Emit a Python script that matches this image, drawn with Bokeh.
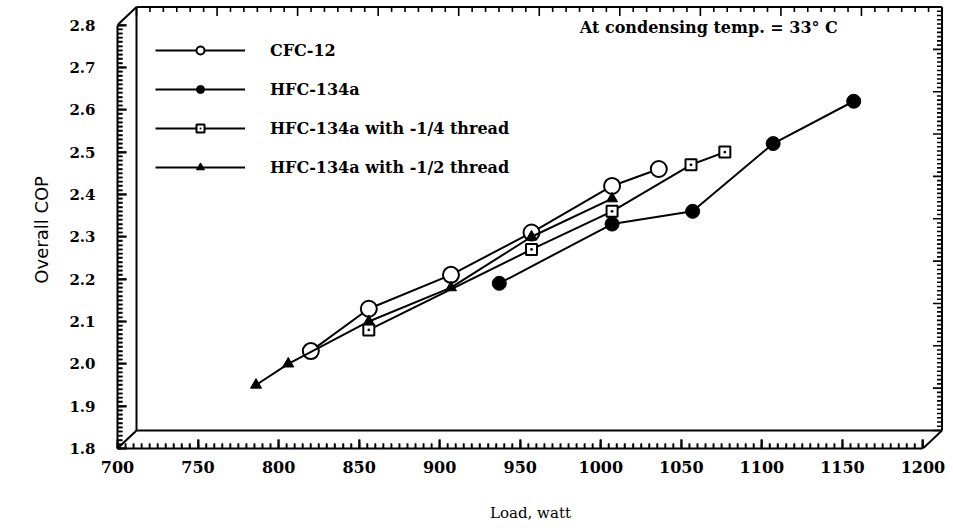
from bokeh.plotting import figure
from bokeh.models import Range1d, FixedTicker, Legend, LegendItem, Label
from bokeh.embed import file_html
from bokeh.resources import INLINE

# ---- data ----
cfc_x = [820, 856, 907, 957, 1007, 1036]
cfc_y = [2.03, 2.13, 2.21, 2.31, 2.42, 2.46]

hfc_x = [937, 1007, 1057, 1107, 1157]
hfc_y = [2.19, 2.33, 2.36, 2.52, 2.62]

quarter_x = [856, 957, 1007, 1056, 1077]
quarter_y = [2.08, 2.27, 2.36, 2.47, 2.50]

half_x = [786, 806, 856, 907, 957, 1007]
half_y = [1.95, 2.00, 2.10, 2.18, 2.30, 2.39]

series_names = ["CFC-12", "HFC-134a", "HFC-134a with -1/4 thread", "HFC-134a with -1/2 thread"]

x_ticks = [700, 750, 800, 850, 900, 950, 1000, 1050, 1100, 1150, 1200]
x_tick_labels = ["700", "750", "800", "850", "900", "950", "1000", "1050", "1100", "1150", "1200"]
y_ticks = [1.8, 1.9, 2.0, 2.1, 2.2, 2.3, 2.4, 2.5, 2.6, 2.7, 2.8]
y_tick_labels = ["1.8", "1.9", "2.0", "2.1", "2.2", "2.3", "2.4", "2.5", "2.6", "2.7", "2.8"]

note_text = "At condensing temp. = 33° C"
x_title = "Load, watt"
y_title = "Overall  COP"

# ---- 3-D frame geometry ----
PXX = 1.61      # pixels per x unit
PXY = 423.0     # pixels per y unit
DX = 19 / PXX   # back plane offset (x)
DY = 18 / PXY   # back plane offset (y)
X0, X1 = 700, 1200
Y0, Y1 = 1.8, 2.8
XE = X1 + DX + 1.5 / PXX
YE = Y1 + DY + 1.5 / PXY

FONT = "DejaVu Serif"

p = figure(width=953, height=531,
           x_range=Range1d(X0, XE), y_range=Range1d(Y0, YE),
           output_backend="svg", toolbar_location=None,
           min_border_left=117, min_border_right=10,
           min_border_top=5, min_border_bottom=83)
p.grid.visible = False
p.outline_line_color = None

xa = p.xaxis[0]
xa.ticker = FixedTicker(ticks=x_ticks, minor_ticks=[X0 + 5 * k for k in range(101)])
xa.bounds = (X0, X1)
xa.major_label_overrides = {t: l for t, l in zip(x_ticks, x_tick_labels)}
xa.axis_line_width = 2
xa.axis_line_color = "black"
xa.major_tick_in = 9
xa.major_tick_out = 0
xa.minor_tick_in = 5
xa.minor_tick_out = 0
xa.major_tick_line_color = "black"
xa.minor_tick_line_color = "black"
xa.major_tick_line_width = 2
xa.minor_tick_line_width = 1.5
xa.major_label_standoff = 12
xa.major_label_text_font = FONT
xa.major_label_text_font_style = "bold"
xa.major_label_text_font_size = "16px"
xa.major_label_text_color = "black"
xa.axis_label = x_title
xa.axis_label_text_font = FONT
xa.axis_label_text_font_style = "normal"
xa.axis_label_text_font_size = "15px"
xa.axis_label_text_color = "black"
xa.axis_label_standoff = 28

ya = p.yaxis[0]
ya.ticker = FixedTicker(ticks=y_ticks, minor_ticks=[round(Y0 + 0.01 * k, 2) for k in range(101)])
ya.bounds = (Y0, Y1)
ya.major_label_overrides = {t: l for t, l in zip(y_ticks, y_tick_labels)}
ya.axis_line_width = 2
ya.axis_line_color = "black"
ya.major_tick_in = 9
ya.major_tick_out = 0
ya.minor_tick_in = 5
ya.minor_tick_out = 0
ya.major_tick_line_color = "black"
ya.minor_tick_line_color = "black"
ya.major_tick_line_width = 2
ya.minor_tick_line_width = 1.5
ya.major_label_standoff = 22
ya.major_label_text_font = FONT
ya.major_label_text_font_style = "bold"
ya.major_label_text_font_size = "15px"
ya.major_label_text_color = "black"
ya.axis_label = y_title
ya.axis_label_text_font = "DejaVu Sans"
ya.axis_label_text_font_style = "normal"
ya.axis_label_text_font_size = "18px"
ya.axis_label_text_color = "black"
ya.axis_label_standoff = 14

# ---- tick combs, drawn as short polylines ----
MAJ, MIN = 9, 5
tick_xs, tick_ys = [], []
for k in range(101):                       # front bottom
    x = X0 + 5 * k
    tick_xs.append([x, x])
    tick_ys.append([Y0, Y0 + (MAJ if k % 10 == 0 else MIN) / PXY])
for k in range(101):                       # front left
    y = Y0 + 0.01 * k
    tick_xs.append([X0, X0 + (MAJ if k % 10 == 0 else MIN) / PXX])
    tick_ys.append([y, y])
for k in range(61):                        # back top
    x = X0 + DX + 50 * k / 6
    tick_xs.append([x, x])
    tick_ys.append([Y1 + DY, Y1 + DY - (MAJ if k % 6 == 0 else MIN) / PXY])
for k in range(101):                       # back right
    y = Y0 + DY + 0.01 * k
    tick_xs.append([X1 + DX, X1 + DX - (MAJ if k % 10 == 0 else MIN) / PXX])
    tick_ys.append([y, y])
p.multi_line(xs=tick_xs, ys=tick_ys, line_color="black", line_width=1.6)

# back-plane edges and corner connectors
p.multi_line(xs=[[X0 + DX, X0 + DX], [X0 + DX, X1 + DX], [X0 + DX, X1 + DX], [X1 + DX, X1 + DX],
                 [X0, X0 + DX], [X0, X0 + DX], [X1, X1 + DX]],
             ys=[[Y0 + DY, Y1 + DY], [Y0 + DY, Y0 + DY], [Y1 + DY, Y1 + DY], [Y0 + DY, Y1 + DY],
                 [Y0, Y0 + DY], [Y1, Y1 + DY], [Y0, Y0 + DY]],
             line_color="black", line_width=2)

# ---- series ----
l1 = p.line(cfc_x, cfc_y, line_color="black", line_width=2)
m1 = p.scatter(cfc_x, cfc_y, marker="circle", size=16, fill_color="white", line_color="black", line_width=2)

l2 = p.line(hfc_x, hfc_y, line_color="black", line_width=2)
m2 = p.scatter(hfc_x, hfc_y, marker="circle", size=14, fill_color="black", line_color="black", line_width=1)

l3 = p.line(quarter_x, quarter_y, line_color="black", line_width=2)
m3 = p.scatter(quarter_x, quarter_y, marker="square_dot", size=11, fill_color="white", line_color="black", line_width=2)

l4 = p.line(half_x, half_y, line_color="black", line_width=2)
m4 = p.scatter(half_x, half_y, marker="triangle", size=11, fill_color="black", line_color="black", line_width=1)

legend = Legend(items=[LegendItem(label=series_names[0], renderers=[l1, m1]),
                       LegendItem(label=series_names[1], renderers=[l2, m2]),
                       LegendItem(label=series_names[2], renderers=[l3, m3]),
                       LegendItem(label=series_names[3], renderers=[l4, m4])],
                location=(38, 271), orientation="vertical",
                glyph_width=90, glyph_height=20, spacing=19, padding=0, margin=0,
                label_standoff=25, label_text_font=FONT, label_text_font_style="bold",
                label_text_font_size="16px", label_text_color="black",
                border_line_color=None, background_fill_alpha=0)
p.add_layout(legend, "center")

note = Label(x=987, y=2.795, text=note_text, text_font=FONT, text_font_size="16px",
             text_font_style="bold", text_baseline="middle", text_color="black")
p.add_layout(note)

html = file_html(p, INLINE)
open("out.html", "w").write(html)
